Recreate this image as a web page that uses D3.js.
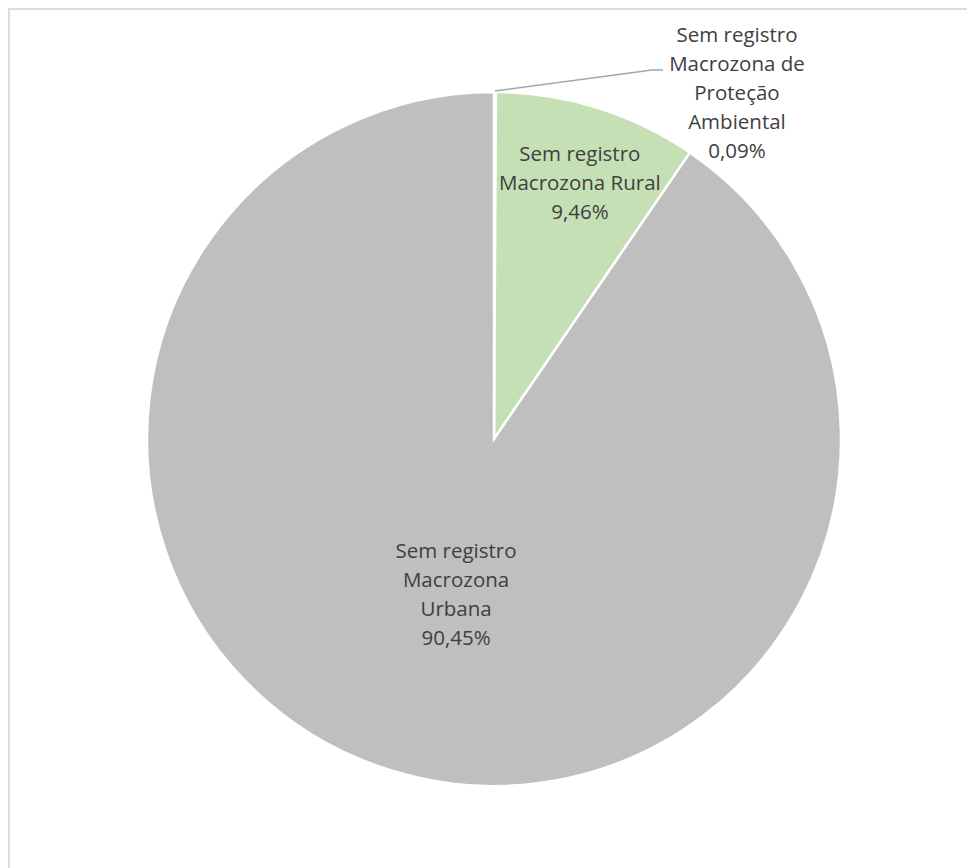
<!DOCTYPE html>
<html>
<head>
<meta charset="utf-8">
<script src="https://cdn.jsdelivr.net/npm/d3@7/dist/d3.min.js"></script>
<style>
  html, body { margin: 0; padding: 0; background: #ffffff; }
  svg { display: block; }
  text { font-family: "Open Sans", "Noto Sans", sans-serif; fill: #404040; }
</style>
</head>
<body>
<svg id="chart" width="967" height="868"></svg>
<script>
// Slice categories, their label lines and shares in percent
const categories = [
  "Sem registro Macrozona de Proteção Ambiental",
  "Sem registro Macrozona Rural",
  "Sem registro Macrozona Urbana"
];
const labelLines = [
  ["Sem registro", "Macrozona de", "Proteção", "Ambiental"],
  ["Sem registro", "Macrozona Rural"],
  ["Sem registro", "Macrozona", "Urbana"]
];
const values = [0.09, 9.46, 90.45];
const colors = ["#A5A5A5", "#C5E0B4", "#BFBFBF"];

const svg = d3.select("#chart");
const W = 967, H = 868;

// chart area frame (extends past the right and bottom edges)
svg.append("rect")
  .attr("x", 9).attr("y", 9)
  .attr("width", W + 20).attr("height", H + 20)
  .attr("fill", "#ffffff")
  .attr("stroke", "#DDDDDD")
  .attr("stroke-width", 2);

const cx = 494, cy = 439, R = 347;
const fmt = v => d3.format(".2f")(v).replace(".", ",") + "%";

const pie = d3.pie().sort(null).value(d => d.value);
const arcs = pie(categories.map((c, i) => ({ name: c, value: values[i], lines: labelLines[i], color: colors[i] })));
const arc = d3.arc().innerRadius(0).outerRadius(R);

const g = svg.append("g").attr("transform", `translate(${cx},${cy})`);

g.selectAll("path.slice")
  .data(arcs)
  .join("path")
  .attr("class", "slice")
  .attr("d", arc)
  .attr("fill", d => d.data.color)
  .attr("stroke", "#ffffff")
  .attr("stroke-width", 2.5)
  .attr("stroke-linejoin", "miter");

const fontSize = 20.5, lineH = 29;

function drawLabel(lines, x, y) {
  const t = g.append("text")
    .attr("text-anchor", "middle")
    .attr("font-size", fontSize);
  const n = lines.length;
  lines.forEach((ln, i) => {
    t.append("tspan")
      .attr("x", x)
      .attr("y", y + (i - (n - 1) / 2) * lineH)
      .attr("dy", "0.35em")
      .text(ln);
  });
}

// inside labels: placed along each slice's mid-angle
const insideFactor = [null, 0.78, 0.46];
arcs.forEach((d, i) => {
  if (insideFactor[i] === null) return;
  const mid = (d.startAngle + d.endAngle) / 2 + (i === 1 ? 0.02 : -0.06);
  const r = R * insideFactor[i];
  const x = Math.sin(mid) * r, y = -Math.cos(mid) * r;
  drawLabel([...d.data.lines, fmt(d.data.value)], x, y);
});

// outside label with leader line for the thin slice
{
  const d = arcs[0];
  const mid = (d.startAngle + d.endAngle) / 2;
  const p0 = [Math.sin(mid) * (R + 1), -Math.cos(mid) * (R + 1)];
  const elbow = [p0[0] + 157, p0[1] - 21];
  const end = [elbow[0] + 11, elbow[1]];
  g.append("polyline")
    .attr("points", [p0, elbow, end].map(p => p.join(",")).join(" "))
    .attr("fill", "none")
    .attr("stroke", "#A6A6A6")
    .attr("stroke-width", 1.5);
  drawLabel([...d.data.lines, fmt(d.data.value)], end[0] + 74, elbow[1] + 23);
}
</script>
</body>
</html>
